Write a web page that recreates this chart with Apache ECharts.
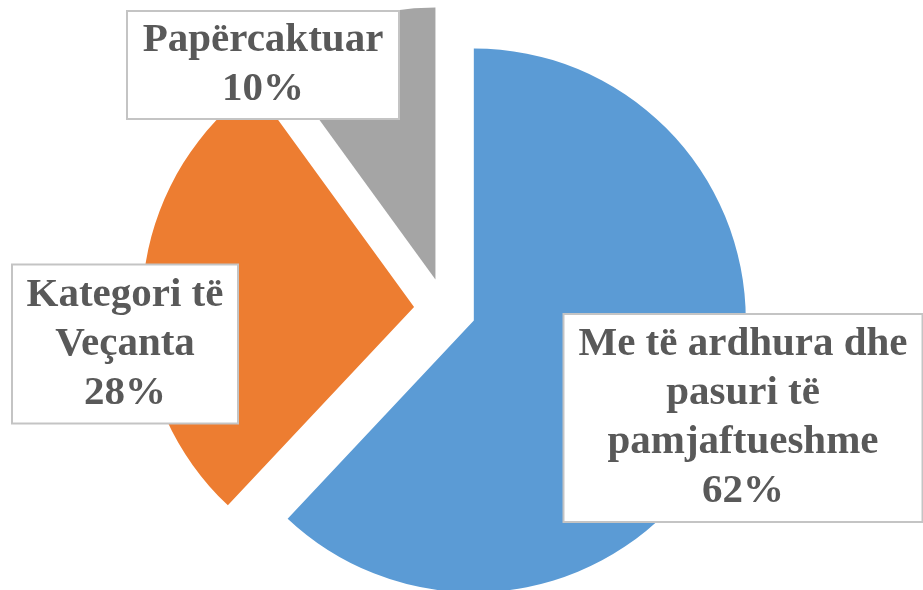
<!DOCTYPE html>
<html>
<head>
<meta charset="utf-8">
<script src="https://cdn.jsdelivr.net/npm/echarts@6/dist/echarts.min.js"></script>
<style>
    html, body { margin: 0; padding: 0; background: #fff; }
    #chart { width: 923px; height: 590px; }
</style>
</head>
<body>
<div id="chart"></div>
<script>
// 数据
const names = ['Me të ardhura dhe\npasuri të\npamjaftueshme', 'Kategori të\nVeçanta', 'Papërcaktuar'];
const values = [62, 28, 10];
const colors = ['#5B9BD5', '#ED7D31', '#A5A5A5'];

// 标签框的位置 (中心点)
const labelPos = [[743, 418], [125, 344], [263, 65]];
const labelBox = [
    { width: 341, padding: [5, 8] },
    { width: 208, padding: [5, 8] },
    { width: 240, padding: [4, 15] }
];

const chart = echarts.init(document.getElementById('chart'));
const sliceData = [];
const labelData = [];
for (let i = 0; i < values.length; i++) {
    sliceData.push({
        name: names[i],
        value: values[i],
        selected: true,
        itemStyle: { color: colors[i] }
    });
    labelData.push({
        name: names[i],
        value: values[i],
        label: { width: labelBox[i].width, padding: labelBox[i].padding }
    });
}

const option = {
    animation: false,
    series: [
        {
            // 分离的扇形
            type: 'pie',
            center: [445, 309],
            radius: 272,
            startAngle: 90,
            clockwise: true,
            selectedMode: 'multiple',
            selectedOffset: 31,
            emphasis: { disabled: true },
            label: { show: false },
            labelLine: { show: false },
            data: sliceData
        },
        {
            // 只用来放标签
            type: 'pie',
            center: [445, 309],
            radius: 272,
            startAngle: 90,
            silent: true,
            avoidLabelOverlap: false,
            itemStyle: { color: 'rgba(0,0,0,0)' },
            emphasis: { disabled: true },
            labelLine: { show: false },
            label: {
                show: true,
                formatter: '{b}\n{d}%',
                fontFamily: '"Liberation Serif", "Times New Roman", serif',
                fontWeight: 'bold',
                fontSize: 41,
                lineHeight: 49,
                color: '#595959',
                align: 'center',
                overflow: 'none',
                backgroundColor: '#fff',
                borderColor: '#C4C4C4',
                borderWidth: 2
            },
            labelLayout: function (params) {
                const p = labelPos[params.dataIndex];
                return { x: p[0], y: p[1], align: 'center', verticalAlign: 'middle' };
            },
            data: labelData
        }
    ]
};
chart.setOption(option);
</script>
</body>
</html>
